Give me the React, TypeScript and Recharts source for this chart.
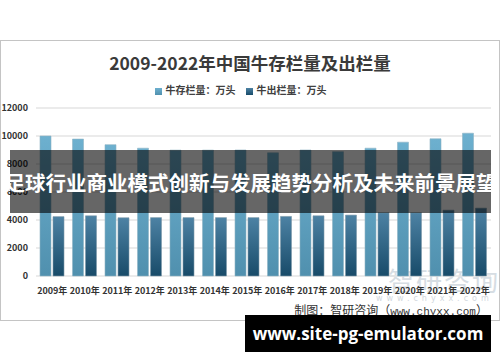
import React from 'react'
import { BarChart, Bar, XAxis, YAxis, CartesianGrid, Legend } from 'recharts'

const years = ['2009年', '2010年', '2011年', '2012年', '2013年', '2014年', '2015年', '2016年', '2017年', '2018年', '2019年', '2020年', '2021年', '2022年']
const inventory = [10000, 9780, 9380, 9130, 8990, 8990, 9000, 8800, 9000, 8880, 9130, 9560, 9800, 10200]
const slaughter = [4240, 4300, 4160, 4170, 4170, 4170, 4170, 4255, 4300, 4350, 4520, 4520, 4700, 4845]
const yTicks = [0, 2000, 4000, 6000, 8000, 10000, 12000]

const data = years.map((year, i) => ({
  year,
  inventory: inventory[i],
  slaughter: slaughter[i]
}))

const cjk = '"Noto Sans CJK SC", "Noto Sans", sans-serif'

export default function App() {
  return (
    <div style={{ position: 'absolute', left: 0, top: 0, width: 500, height: 362, background: '#fff', overflow: 'hidden', fontFamily: cjk }}>
      <div style={{ position: 'absolute', left: 0, top: 40, width: 498, height: 279, border: '1px solid #c4c4c4' }} />
      <div style={{ position: 'absolute', left: 0, top: 50, width: 500, textAlign: 'center', fontSize: 17.5, fontWeight: 700, color: '#3a3a3a' }}>
        2009-2022年中国牛存栏量及出栏量
      </div>
      {/* watermark */}
      <div style={{ position: 'absolute', left: 388, top: 261, fontSize: 26, color: '#d6dde3', letterSpacing: 2 }}>智研咨询</div>
      <div style={{ position: 'absolute', left: 376, top: 294, fontSize: 8, color: '#d2d8de', letterSpacing: 4, fontFamily: '"DejaVu Sans", sans-serif' }}>www.chyxx.com</div>
      <div style={{ position: 'absolute', left: 0, top: 0 }}>
        <BarChart width={500} height={362} data={data} margin={{ top: 93, right: 9, bottom: 56, left: 0 }} barSize={11} barGap={2}>
          <defs>
            <linearGradient id="gInv" x1="0" y1="0" x2="0" y2="1">
              <stop offset="0%" stopColor="#6db0cf" />
              <stop offset="100%" stopColor="#5090ae" />
            </linearGradient>
            <linearGradient id="gOut" x1="0" y1="0" x2="0" y2="1">
              <stop offset="0%" stopColor="#4d82a4" />
              <stop offset="100%" stopColor="#184b69" />
            </linearGradient>
          </defs>
          <CartesianGrid vertical={false} stroke="#e4e4e4" strokeWidth={1.5} />
          <XAxis
            dataKey="year"
            axisLine={false}
            tickLine={false}
            interval={0}
            tickMargin={6}
            tick={{ fontSize: 9, fill: '#333', fontWeight: 600, fontFamily: cjk }}
          />
          <YAxis
            width={36}
            domain={[0, 12000]}
            ticks={yTicks}
            axisLine={false}
            tickLine={false}
            tick={{ fontSize: 9, fill: '#333', fontWeight: 600, fontFamily: cjk }}
          />
          <Legend
            verticalAlign="top"
            align="center"
            iconType="square"
            iconSize={7}
            itemSorter="dataKey"
            wrapperStyle={{ top: 82, fontSize: 10, fontWeight: 700 }}
            formatter={(value) => <span style={{ color: '#404040' }}>{value}</span>}
          />
          <Bar dataKey="inventory" name="牛存栏量：万头" fill="url(#gInv)" stroke="#8fb3c4" strokeWidth={0.6} isAnimationActive={false} />
          <Bar dataKey="slaughter" name="牛出栏量：万头" fill="url(#gOut)" stroke="#7d98aa" strokeWidth={0.6} isAnimationActive={false} />
        </BarChart>
      </div>
      <div style={{ position: 'absolute', right: 12, top: 301, fontSize: 12, color: '#333' }}>
        制图：智研咨询（<span style={{ fontFamily: '"Liberation Mono", monospace', fontSize: 11 }}>www.chyxx.com</span>）
      </div>
      {/* overlay banners */}
      <div style={{ position: 'absolute', left: 10, top: 150, width: 481, height: 63, background: 'rgba(0,0,0,0.6)', display: 'flex', alignItems: 'center', justifyContent: 'center', color: '#fff', fontSize: 20.5, fontWeight: 700, whiteSpace: 'nowrap' }}>
        足球行业商业模式创新与发展趋势分析及未来前景展望
      </div>
      <div style={{ position: 'absolute', left: 245, top: 315, width: 246, height: 37, background: '#000', display: 'flex', alignItems: 'center', justifyContent: 'center', color: '#fff', fontSize: 17, fontWeight: 700, fontFamily: '"Open Sans", sans-serif' }}>
        www.site-pg-emulator.com
      </div>
    </div>
  )
}
